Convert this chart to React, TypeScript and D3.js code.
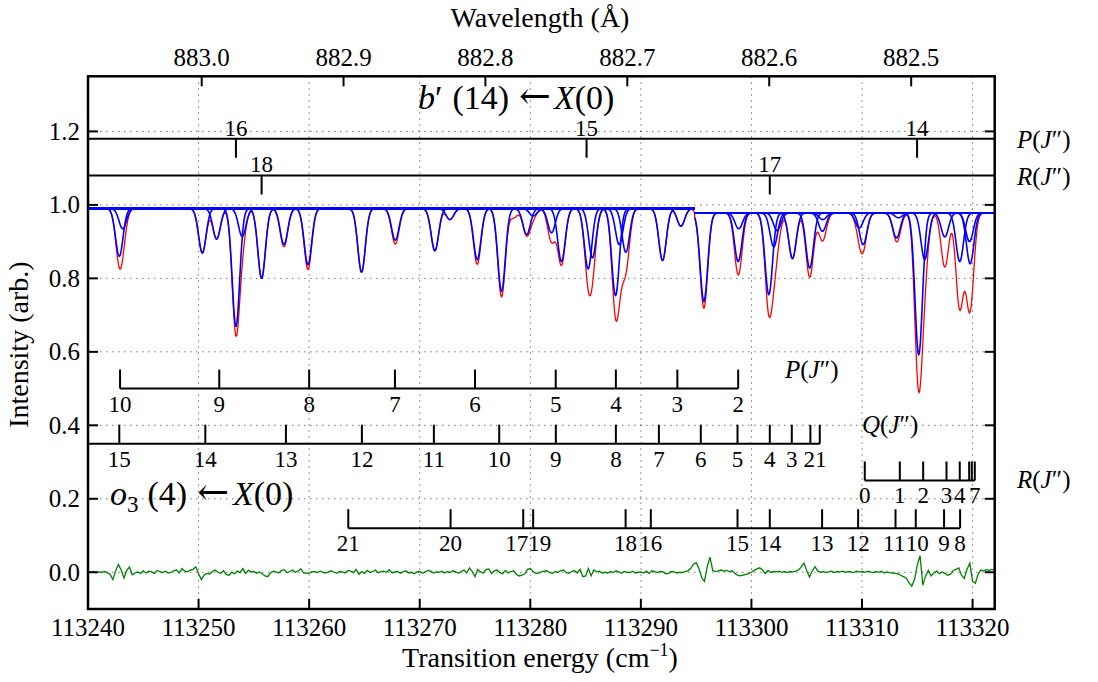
import React from 'react';
import * as d3 from 'd3';

// ---------- data ----------
const nuDomain = [113240, 113322];
const yDomain = [-0.1, 1.35];
const xTicks = [113240, 113250, 113260, 113270, 113280, 113290, 113300, 113310, 113320];
const yTicks = [0.0, 0.2, 0.4, 0.6, 0.8, 1.0, 1.2];
const yTickLabels = ['0.0', '0.2', '0.4', '0.6', '0.8', '1.0', '1.2'];
const wlTicks = [883.0, 882.9, 882.8, 882.7, 882.6, 882.5];
const wlTickLabels = ['883.0', '882.9', '882.8', '882.7', '882.6', '882.5'];

// fit segments (continuum level of each)
const segmentEdges = [113240, 113294.88, 113322];
const segmentBaselines = [0.99, 0.978];

// fitted absorption components: centre (cm-1) and minimum intensity
const lineCentres = [
  113242.83, 113243.14, 113250.34, 113251.63, 113253.38, 113253.95, 113255.70, 113257.72,
  113259.89, 113264.74, 113267.79, 113271.37, 113272.73, 113275.20, 113277.40, 113279.67,
  113280.27, 113281.92, 113282.82, 113285.23, 113285.62, 113287.71, 113288.04, 113288.64,
  113291.96, 113293.62, 113295.70, 113298.80, 113298.85, 113301.57, 113302.02, 113302.32,
  113303.71, 113305.27, 113306.42, 113306.45, 113309.75, 113310.10, 113313.12, 113313.30,
  113315.13, 113315.67, 113317.49, 113318.84, 113319.72, 113319.78,
];
const lineMinima = [
  0.860, 0.935, 0.869, 0.907, 0.669, 0.914, 0.800, 0.892,
  0.837, 0.817, 0.904, 0.875, 0.960, 0.851, 0.765, 0.919,
  0.970, 0.924, 0.846, 0.826, 0.856, 0.753, 0.892, 0.871,
  0.849, 0.942, 0.737, 0.846, 0.935, 0.756, 0.886, 0.930,
  0.854, 0.828, 0.928, 0.960, 0.937, 0.892, 0.910, 0.965,
  0.592, 0.851, 0.913, 0.846, 0.900, 0.840,
];
const lineFWHM = 0.8;

// extra absorption seen in the observed spectrum beyond the plotted components
const extraCentres = [
  113253.38, 113257.72, 113259.89, 113267.79, 113275.20, 113277.40, 113278.50, 113281.92,
  113282.82, 113287.71, 113288.60, 113295.70, 113301.57, 113305.27, 113306.42, 113315.13,
  113317.49, 113318.84, 113319.72,
];
const extraTransmission = [
  0.980, 0.993, 0.985, 0.988, 0.985, 0.980, 0.975, 0.975,
  0.990, 0.980, 0.955, 0.975, 0.965, 0.970, 0.990, 0.860,
  0.910, 0.850, 0.920,
];

// residual (obs - fit), sampled every 0.25 cm-1 from 113240
const residualStart = 113240;
const residualStep = 0.25;
const residual = [
  0.001, 0.000, 0.002, -0.001, 0.001, 0.000, 0.002, -0.001, -0.006, -0.020, 0.004, 0.021, 0.006, -0.016, 0.005, 0.014, -0.007, -0.002, 0.001, -0.003,
  0.004, -0.002, 0.003, 0.001, -0.003, 0.005, 0.002, -0.001, 0.003, -0.002, 0.000, 0.004, 0.006, -0.002, 0.010, 0.003, 0.001, 0.006, 0.008, 0.015,
  -0.004, -0.020, -0.008, -0.003, -0.005, 0.002, 0.006, 0.000, -0.003, 0.004, -0.006, -0.008, 0.000, -0.004, 0.003, -0.001, 0.010, -0.003, 0.005, 0.001,
  0.002, -0.003, 0.001, -0.004, -0.010, -0.012, -0.002, 0.003, 0.001, -0.002, 0.005, 0.007, -0.001, 0.002, 0.006, 0.000, 0.004, 0.009, -0.002, -0.003,
  -0.002, 0.001, 0.002, -0.001, 0.003, 0.000, -0.002, 0.001, 0.004, 0.000, -0.003, 0.002, 0.001, -0.002, 0.005, 0.003, -0.001, 0.008, -0.006, 0.002,
  -0.003, 0.005, -0.001, 0.002, 0.006, -0.001, 0.002, 0.003, 0.000, 0.007, -0.002, 0.001, 0.002, -0.003, 0.001, 0.004, -0.002, 0.000, -0.004, 0.001,
  0.002, -0.003, 0.001, 0.005, 0.003, -0.002, 0.001, 0.000, 0.003, -0.002, 0.002, -0.001, 0.004, 0.001, -0.003, 0.002, 0.006, -0.002, 0.012, 0.002,
  -0.012, 0.008, 0.001, -0.002, 0.007, 0.009, -0.003, 0.004, 0.006, -0.001, -0.004, 0.005, -0.002, 0.002, 0.004, -0.006, -0.010, -0.008, -0.004, 0.008,
  0.010, 0.002, -0.003, -0.002, 0.001, 0.003, 0.004, -0.001, -0.003, 0.002, 0.000, 0.004, 0.006, -0.001, -0.003, 0.002, 0.005, -0.002, 0.008, -0.012,
  -0.010, 0.010, -0.010, 0.006, 0.001, 0.003, -0.002, 0.000, -0.002, 0.002, -0.001, 0.004, 0.001, -0.003, 0.002, 0.000, -0.001, 0.003, -0.002, 0.000,
  0.001, -0.002, 0.003, -0.003, 0.004, 0.002, -0.001, 0.002, 0.001, -0.004, -0.003, 0.002, 0.001, -0.002, 0.000, -0.001, 0.002, 0.004, 0.010, 0.022,
  0.026, 0.010, -0.015, -0.025, 0.015, 0.041, 0.005, 0.002, 0.004, 0.006, 0.003, 0.005, 0.002, 0.004, -0.003, -0.008, -0.010, -0.008, -0.006, -0.004,
  0.000, 0.005, 0.009, 0.012, 0.006, -0.004, 0.005, -0.001, 0.002, 0.001, 0.003, 0.000, 0.002, -0.001, 0.002, 0.001, 0.003, 0.006, 0.014, 0.025,
  0.005, -0.013, 0.004, 0.015, 0.003, 0.000, 0.002, -0.001, 0.001, 0.003, -0.001, 0.002, 0.001, 0.003, 0.000, 0.002, 0.001, -0.001, 0.003, 0.001,
  0.002, 0.000, 0.003, 0.001, -0.001, 0.002, 0.000, 0.003, -0.002, 0.001, -0.001, -0.002, -0.003, -0.004, -0.008, -0.012, -0.016, -0.028, -0.038, -0.020,
  0.020, 0.045, -0.035, -0.010, 0.005, -0.010, -0.002, 0.003, -0.004, 0.001, -0.003, -0.008, -0.005, 0.005, 0.008, 0.012, -0.008, -0.017, 0.008, 0.025,
  -0.025, -0.030, -0.005, 0.006, 0.004, 0.007, 0.005, 0.008, 0.006,
];

// rotational assignments
// b'(14) <- X(0)
const bP_J = ['16', '15', '14'];
const bP_nu = [113253.38, 113285.09, 113314.98];
const bR_J = ['18', '17'];
const bR_nu = [113255.70, 113301.66];
// o3(4) <- X(0)
const oP_J = ['10', '9', '8', '7', '6', '5', '4', '3', '2'];
const oP_nu = [113242.9, 113251.87, 113260.0, 113267.76, 113275.0, 113282.3, 113287.74, 113293.3, 113298.8];
const oS_J = ['15', '14', '13', '12', '11', '10', '9', '8', '7', '6', '5', '4', '3', '2', '1'];
const oS_nu = [113242.83, 113250.61, 113257.9, 113264.77, 113271.28, 113277.19, 113282.31, 113287.74, 113291.63, 113295.42, 113298.74, 113301.66, 113303.65, 113305.33, 113306.18];
const oQ_J = ['0', '1', '2', '3', '4', '', '', '7'];
const oQ_nu = [113310.25, 113313.42, 113315.53, 113317.64, 113318.84, 113319.69, 113319.93, 113320.2];
const oR_J = ['21', '20', '17', '19', '18', '16', '15', '14', '13', '12', '11', '10', '9', '8'];
const oR_nu = [113263.54, 113272.79, 113279.36, 113280.26, 113288.62, 113290.9, 113298.74, 113301.66, 113306.39, 113309.65, 113313.03, 113314.86, 113317.42, 113318.87];

// ---------- layout ----------
const W = 1098, H = 682;
const L = 88, R = 994.7, T = 76.3, B = 609;
const FONT = '"Liberation Serif", "DejaVu Serif", "Times New Roman", serif';
const ARROW_FONT = '"DejaVu Serif", "DejaVu Sans", serif';
const fs = (size: number) => ({ fontFamily: FONT, fontSize: size });

const x = d3.scaleLinear().domain(nuDomain).range([L, R]);
const y = d3.scaleLinear().domain(yDomain).range([B, T]);

const sigma = lineFWHM / 2.3548;
const segOf = (nu: number) => (nu < segmentEdges[1] ? 0 : 1);

function dip(nu: number, c: number, t: number) {
  return 1 - (1 - t) * Math.exp(-((nu - c) ** 2) / (2 * sigma * sigma));
}

const line = d3.line<[number, number]>().x((d) => x(d[0])).y((d) => y(d[1]));

function grid(a: number, b: number, step: number) {
  const n = Math.round((b - a) / step);
  return d3.range(n + 1).map((i) => a + i * step);
}

function componentPaths() {
  return lineCentres.map((c, i) => {
    const s = segOf(c);
    const base = segmentBaselines[s];
    const pts = grid(segmentEdges[s], segmentEdges[s + 1], 0.04).map(
      (nu) => [nu, base * dip(nu, c, lineMinima[i] / base)] as [number, number]
    );
    return line(pts) as string;
  });
}

function observedPath() {
  const pts = grid(nuDomain[0], nuDomain[1], 0.04).map((nu) => {
    const base = segmentBaselines[segOf(nu)];
    let t = 1;
    lineCentres.forEach((c, i) => {
      t *= dip(nu, c, lineMinima[i] / segmentBaselines[segOf(c)]);
    });
    extraCentres.forEach((c, i) => {
      t *= dip(nu, c, extraTransmission[i]);
    });
    return [nu, base * t] as [number, number];
  });
  return line(pts) as string;
}

function residualPath() {
  const pts = residual.map((r, i) => [residualStart + i * residualStep, r] as [number, number]);
  return line(pts) as string;
}

// spread label centres apart where neighbouring labels would collide
function spreadLabels(xs: number[], labels: string[], charW: number) {
  const out = xs.slice();
  for (let i = 0; i < out.length - 1; i++) {
    const need = ((labels[i].length + labels[i + 1].length) * charW) / 2;
    const gap = out[i + 1] - out[i];
    if (labels[i] && labels[i + 1] && gap < need) {
      const push = (need - gap) / 2;
      out[i] -= push;
      out[i + 1] += push;
    }
  }
  return out;
}

type ProgProps = {
  level: number;
  nus: number[];
  labels: string[];
  dir: 'up' | 'down';
  full?: boolean;
  fromLeft?: boolean;
};

function Progression({ level, nus, labels, dir, full, fromLeft }: ProgProps) {
  const yl = y(level);
  const x0 = full || fromLeft ? L : x(d3.min(nus)!);
  const x1 = full ? R : x(d3.max(nus)!);
  const tl = 19;
  const lx = spreadLabels(nus.map((n) => x(n)), labels, 11.5);
  return (
    <g>
      <line x1={x0} x2={x1} y1={yl} y2={yl} stroke="#000" strokeWidth={2} />
      {nus.map((nu, i) => (
        <g key={i}>
          <line
            x1={x(nu)}
            x2={x(nu)}
            y1={yl}
            y2={dir === 'down' ? yl + tl : yl - tl}
            stroke="#000"
            strokeWidth={2}
          />
          <text x={lx[i]} y={dir === 'down' ? yl - 3 : yl + 23} textAnchor="middle" style={fs(23)}>
            {labels[i]}
          </text>
        </g>
      ))}
    </g>
  );
}

function JLabel({ letter, px, py }: { letter: string; px: number; py: number }) {
  return (
    <text x={px} y={py} style={fs(25)}>
      <tspan fontStyle="italic">{letter}</tspan>(<tspan fontStyle="italic">J</tspan>″)
    </text>
  );
}

export default function App() {
  const comps = componentPaths();
  const obs = observedPath();
  const res = residualPath();
  return (
    <svg
      width={W}
      height={H}
      viewBox={`0 0 ${W} ${H}`}
      style={{ position: 'absolute', left: 0, top: 0, background: '#fff' }}
    >
      <rect x={0} y={0} width={W} height={H} fill="#fff" />
      <defs>
        <clipPath id="plotclip">
          <rect x={L} y={T} width={R - L} height={B - T} />
        </clipPath>
      </defs>
      {/* grid */}
      <g stroke="#000" strokeOpacity={0.55} strokeWidth={1} strokeDasharray="1.5,4.5">
        {xTicks.slice(1).map((t) => (
          <line key={t} x1={x(t)} x2={x(t)} y1={T} y2={B} />
        ))}
        {yTicks.map((t) => (
          <line key={t} x1={L} x2={R} y1={y(t)} y2={y(t)} />
        ))}
      </g>
      <g clipPath="url(#plotclip)">
        <path d={obs} fill="none" stroke="#ff0000" strokeWidth={1.3} />
        {comps.map((d, i) => (
          <path key={i} d={d} fill="none" stroke="#0000ff" strokeWidth={1.6} />
        ))}
        <path d={res} fill="none" stroke="#008000" strokeWidth={1.3} />
        <Progression level={1.18} nus={bP_nu} labels={bP_J} dir="down" full />
        <Progression level={1.08} nus={bR_nu} labels={bR_J} dir="down" full />
        <Progression level={0.5} nus={oP_nu} labels={oP_J} dir="up" />
        <Progression level={0.35} nus={oS_nu} labels={oS_J} dir="up" fromLeft />
        <Progression level={0.25} nus={oQ_nu} labels={oQ_J} dir="up" />
        <Progression level={0.12} nus={oR_nu} labels={oR_J} dir="up" />
      </g>
      {/* band labels */}
      <text x={418} y={109} style={fs(34)}>
        <tspan fontStyle="italic">b</tspan>
        <tspan>′</tspan>
        <tspan dx={10}>(14)</tspan>
        <tspan dx={10} fontFamily={ARROW_FONT} fontSize={38}>←</tspan>
        <tspan dx={3} fontStyle="italic">X</tspan>
        <tspan>(0)</tspan>
      </text>
      <text x={110} y={505} style={fs(34)}>
        <tspan fontStyle="italic">o</tspan>
        <tspan fontSize={23} dy={7}>3</tspan>
        <tspan dx={9} dy={-7}>(4)</tspan>
        <tspan dx={10} fontFamily={ARROW_FONT} fontSize={38}>←</tspan>
        <tspan dx={4} fontStyle="italic">X</tspan>
        <tspan>(0)</tspan>
      </text>
      <JLabel letter="P" px={1017} py={148} />
      <JLabel letter="R" px={1017} py={185} />
      <JLabel letter="P" px={785} py={378} />
      <JLabel letter="Q" px={862} py={433} />
      <JLabel letter="R" px={1017} py={488} />
      {/* frame */}
      <rect x={L} y={T} width={R - L} height={B - T} fill="none" stroke="#000" strokeWidth={2.5} />
      {/* bottom ticks */}
      {xTicks.map((t) => (
        <g key={t}>
          <line x1={x(t)} x2={x(t)} y1={B} y2={B - 10} stroke="#000" strokeWidth={2} />
          <text x={x(t)} y={636} textAnchor="middle" style={fs(25)}>
            {t}
          </text>
        </g>
      ))}
      {/* top wavelength ticks */}
      {wlTicks.map((w, i) => (
        <g key={w}>
          <line x1={x(1e8 / w)} x2={x(1e8 / w)} y1={T} y2={T + 10} stroke="#000" strokeWidth={2} />
          <text x={x(1e8 / w)} y={66} textAnchor="middle" style={fs(25)}>
            {wlTickLabels[i]}
          </text>
        </g>
      ))}
      {/* y ticks */}
      {yTicks.map((t, i) => (
        <g key={t}>
          <line x1={L} x2={L + 10} y1={y(t)} y2={y(t)} stroke="#000" strokeWidth={2} />
          <line x1={R} x2={R - 10} y1={y(t)} y2={y(t)} stroke="#000" strokeWidth={2} />
          <text x={80} y={y(t) + 8.5} textAnchor="end" style={fs(25)}>
            {yTickLabels[i]}
          </text>
        </g>
      ))}
      {/* axis labels */}
      <text x={540} y={27} textAnchor="middle" style={fs(28)}>
        Wavelength (Å)
      </text>
      <text x={540} y={667} textAnchor="middle" style={fs(28)}>
        Transition energy (cm<tspan fontSize={18} dy={-11}>−1</tspan>
        <tspan dy={11}>)</tspan>
      </text>
      <text
        transform={`translate(28, ${(T + B) / 2 + 2}) rotate(-90)`}
        textAnchor="middle"
        style={fs(28)}
      >
        Intensity (arb.)
      </text>
    </svg>
  );
}
